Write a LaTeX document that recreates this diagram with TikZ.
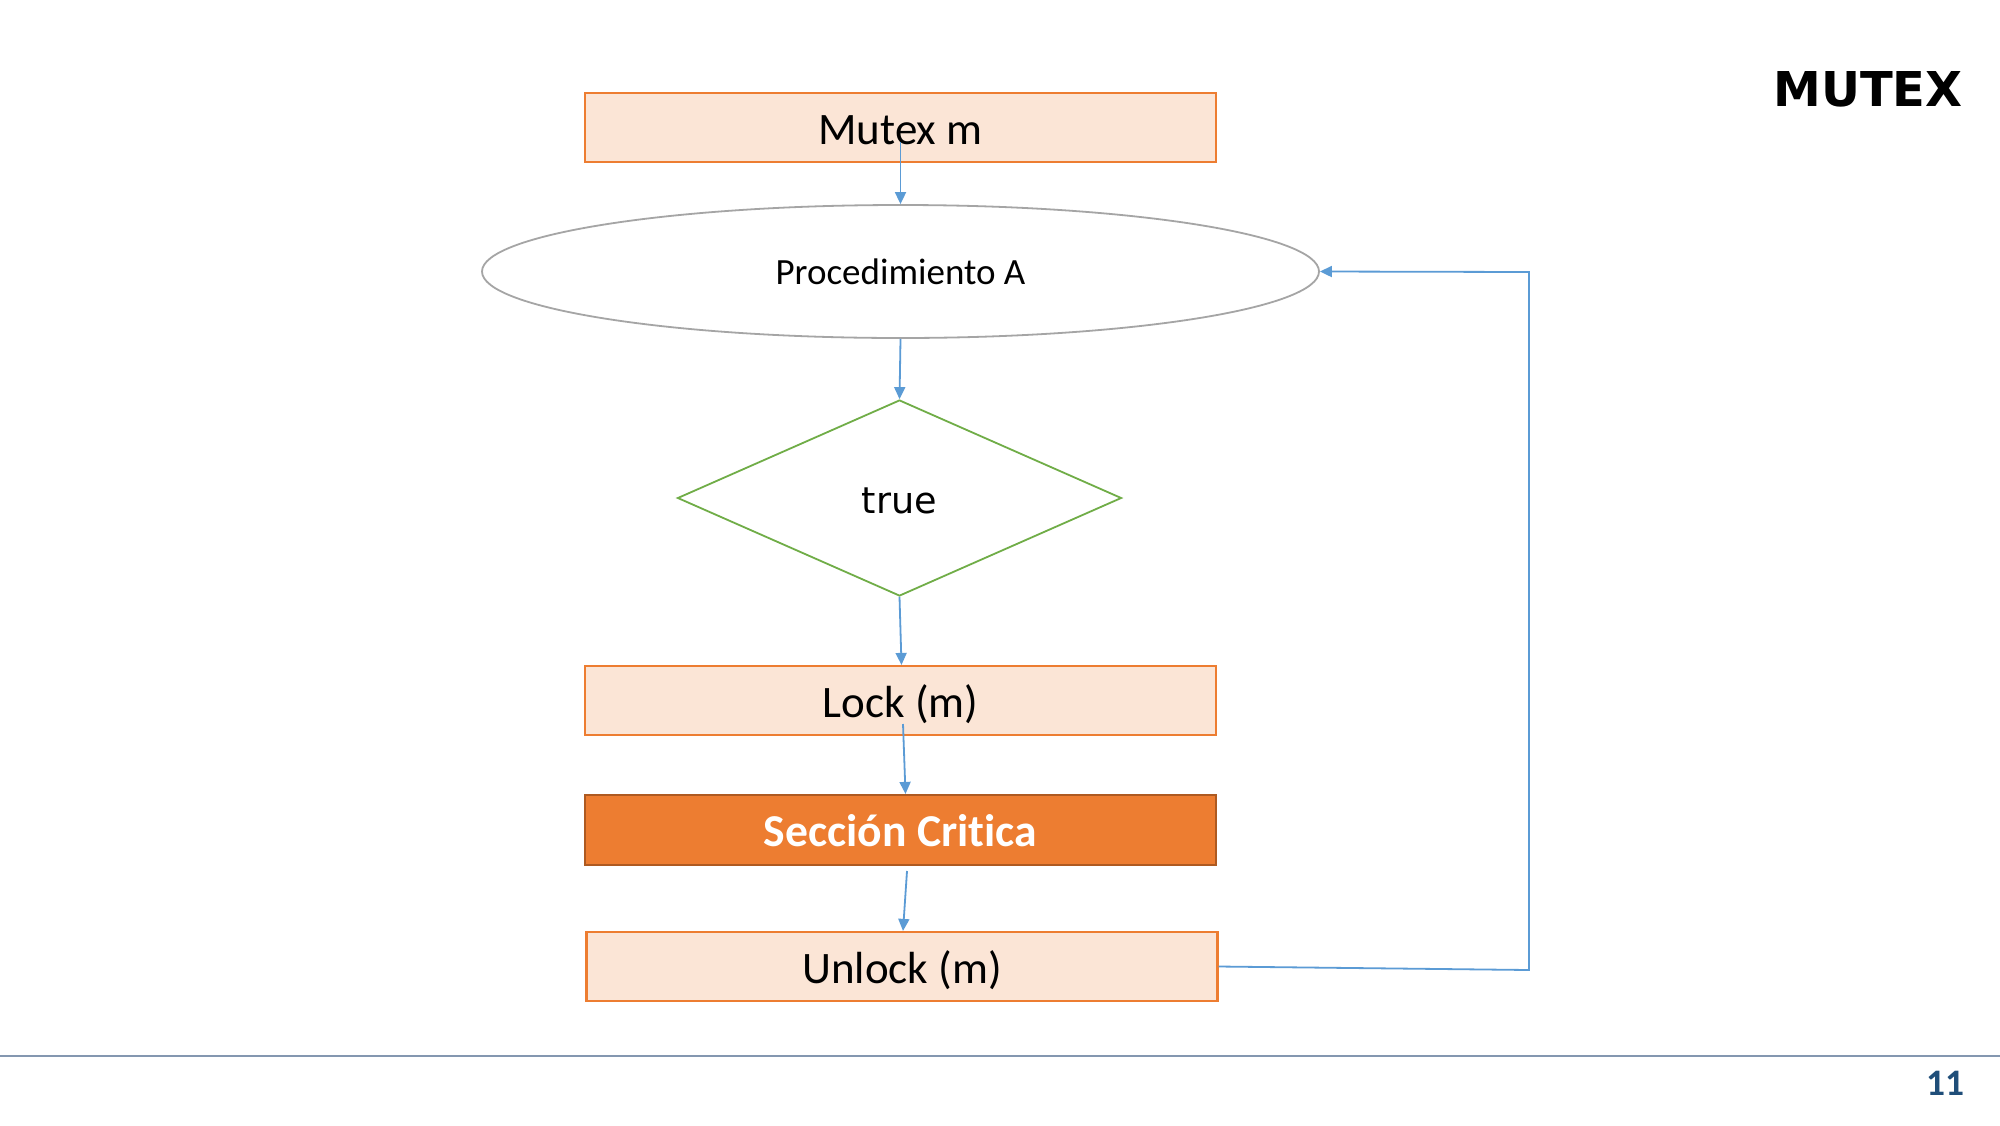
\documentclass[tikz,border=0pt]{standalone}
\usepackage{fontspec}
\setmainfont{Carlito}[Ligatures=NoCommon]
\newfontfamily\dejavu{DejaVu Sans}
\usetikzlibrary{shapes.geometric,arrows.meta}
\definecolor{lightor}{HTML}{FBE5D6}
\definecolor{orline}{HTML}{ED7D31}
\definecolor{ordark}{HTML}{AE5A21}
\definecolor{grn}{HTML}{70AD47}
\definecolor{gry}{HTML}{A5A5A5}
\definecolor{blu}{HTML}{5B9BD5}
\definecolor{rule}{HTML}{8497B0}
\definecolor{navy}{HTML}{1F4E79}
\tikzset{
  lightbox/.style={draw=orline, fill=lightor, line width=1.1pt, minimum width=315.5pt, minimum height=34.5pt, inner sep=0pt, text height=20pt, text depth=3pt, font=\fontsize{22.5}{26}\selectfont},
  darkbox/.style={draw=ordark, fill=orline, line width=1.1pt, minimum width=315.5pt, minimum height=35pt, inner sep=0pt, text height=19pt, text depth=3pt, text=white, font=\fontsize{22.8}{26}\selectfont\bfseries},
  procell/.style={ellipse, draw=gry, line width=0.9pt, minimum width=418.5pt, minimum height=66.5pt, inner sep=0pt, font=\fontsize{18.5}{22}\selectfont},
  decis/.style={diamond, draw=grn, line width=0.9pt, minimum width=222pt, minimum height=98pt, inner sep=0pt, text height=15.6pt, text depth=0pt, font=\dejavu\fontsize{18.3}{22}\selectfont},
  flow/.style={draw=blu, line width=0.9pt, -{Triangle[length=6pt,width=5.5pt]}},
}
\begin{document}
\begin{tikzpicture}[x=0.5pt,y=-0.5pt]
\path[use as bounding box, fill=white] (0,0) rectangle (2000,1125);
\node[lightbox] (mutex) at (900.5,127.5) {Mutex m};
\node[procell] (proc) at (900.5,271.5) {Procedimiento A};
\node[decis] (cond) at (899.5,498) {true};
\node[lightbox] (lock) at (900.5,700.5) {Lock (m)};
\node[darkbox] (sec) at (900.5,830) {Sección Critica};
\node[lightbox] (unlock) at (902,966.5) {Unlock (m)};
\node[font=\dejavu\bfseries\fontsize{24}{28}\selectfont] (title) at (1868,89) {MUTEX};
\node[font=\fontsize{18.7}{22}\selectfont\bfseries, text=navy] (pnum) at (1945,1083) {11};
\coordinate (ruleL) at (0,1056);
\coordinate (ruleR) at (2000,1056);
\draw[rule, line width=1pt] (ruleL) -- (ruleR);
\coordinate (m0) at (900.5,142);
\coordinate (l0) at (903,724);
\coordinate (s0) at (907,871);
\coordinate (c1) at (1529,970);
\coordinate (c2) at (1529,272);
\draw[flow] (m0) -- (proc.north);
\draw[flow] (proc.south) -- (cond.north);
\draw[flow] (cond.south) -- ([xshift=0.5pt]lock.north);
\draw[flow] (l0) -- ([xshift=2.5pt]sec.north);
\draw[flow] (s0) -- ([xshift=0.5pt]unlock.north);
\draw[flow] (unlock.east) -- (c1) -- (c2) -- (proc.east);
\end{tikzpicture}
\end{document}
